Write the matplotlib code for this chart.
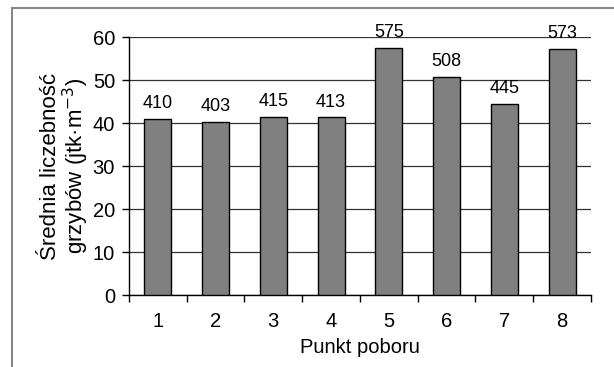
import numpy as np
import matplotlib.pyplot as plt
from matplotlib.lines import Line2D

# data
punkty = ['1', '2', '3', '4', '5', '6', '7', '8']
srednia = [41.0, 40.3, 41.5, 41.3, 57.5, 50.8, 44.5, 57.3]
etykiety = ['410', '403', '415', '413', '575', '508', '445', '573']

plt.rcParams['font.family'] = ['Liberation Sans', 'DejaVu Sans']
plt.rcParams['font.size'] = 14.5

fig = plt.figure(figsize=(6.14, 3.67), dpi=100)
ax = fig.add_axes([0.210, 0.196, 0.7525, 0.703])

x = np.arange(1, len(punkty) + 1)
ax.bar(x, srednia, width=0.47, color='#808080', edgecolor='black', linewidth=1.0, zorder=3)

for xi, h, lab in zip(x, srednia, etykiety):
    ax.annotate(lab, (xi, h), xytext=(0, 5), textcoords='offset points',
                ha='center', va='bottom', fontsize=13, zorder=4)

ax.set_xlim(0.5, 8.5)
ax.set_ylim(0, 60)
ax.set_yticks([0, 10, 20, 30, 40, 50, 60])
ax.yaxis.grid(True, color='#333333', linewidth=0.9, zorder=0)

ax.set_xticks(x)
ax.set_xticklabels(punkty)
ax.set_xticks(np.arange(0.5, 9.0, 1.0), minor=True)
ax.tick_params(axis='x', which='major', length=0, pad=12, labelsize=14.5)
ax.tick_params(axis='x', which='minor', length=5, width=1, direction='out', color='black')
ax.tick_params(axis='y', length=5, width=1, direction='out', pad=5, labelsize=14.5)

for s in ['top', 'right']:
    ax.spines[s].set_visible(False)
ax.spines['left'].set_linewidth(1.0)
ax.spines['bottom'].set_linewidth(1.0)

ax.set_xlabel('Punkt poboru', fontsize=14.5, labelpad=5)
ax.set_ylabel('Średnia liczebność\ngrzybów (jtk·m$^{-3}$)', fontsize=16, labelpad=1, linespacing=1.0)

# outer frame (top and left only visible)
fig.add_artist(Line2D([12 / 614, 1], [1 - 8 / 367, 1 - 8 / 367], color='#888888', linewidth=1.5, transform=fig.transFigure))
fig.add_artist(Line2D([12 / 614, 12 / 614], [0, 1 - 8 / 367], color='#888888', linewidth=1.5, transform=fig.transFigure))

plt.savefig('out.png', dpi=100)
